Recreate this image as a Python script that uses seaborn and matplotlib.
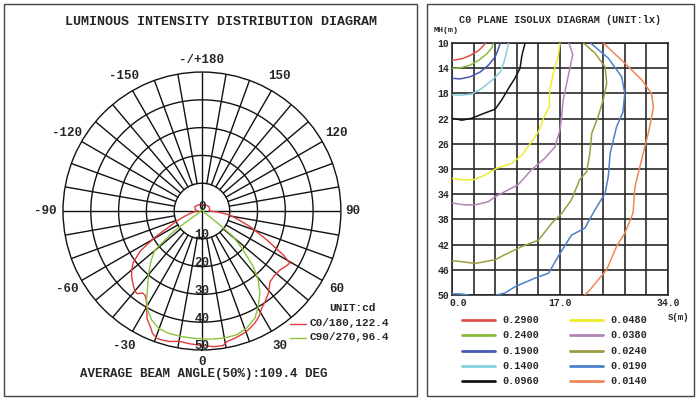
import numpy as np
import matplotlib
matplotlib.use("Agg")
import matplotlib.pyplot as plt
from matplotlib.lines import Line2D
from matplotlib.patches import Rectangle
from matplotlib.transforms import ScaledTranslation
import seaborn as sns

# --- polar data: angle (deg, 0 = straight down) and value on the 0..50 ring scale
c0_angle = [-180, -150, -120, -100, -90, -84, -78, -73, -68, -64, -61, -57, -53, -50, -47,
            -43, -40, -38, -36, -34, -32, -30, -27, -24, -22, -19.5, -17, -14, -10, -5,
            0, 5, 9, 11, 14.5, 17, 20, 22.5, 25, 27, 29, 31.5, 35, 39, 44,
            48.5, 53, 56, 59.3, 61.6, 66, 72, 76, 82, 86, 90, 100, 120, 150, 180]
c0_value = [2.2, 2.6, 3.0, 2.4, 1.5, 2.5, 4.5, 6.5, 10.0, 13.5, 19.0, 26.5, 31.0, 33.0, 34.6,
            36.3, 37.6, 37.8, 36.4, 36.6, 37.8, 39.8, 43.5, 45.6, 47.5, 48.6, 48.6, 48.4, 47.6, 48.0,
            48.4, 49.0, 49.0, 47.8, 47.3, 46.8, 46.3, 45.5, 44.7, 43.8, 42.8, 41.1, 39.7, 38.0, 35.3,
            34.9, 35.2, 36.0, 36.8, 33.3, 25.5, 18.2, 14.0, 10.0, 6.0, 2.5, 2.8, 3.0, 2.6, 2.2]

c90_angle = [-180, -90, -70, -58, -56, -55, -53.6, -50.3, -45.8, -40.2, -35.7, -31.9, -28.7, -24.8,
             -20.4, -15.4, -9.2, -3.1, 3.6, 9.5, 15.6, 20.9, 26.3, 30.5, 35.2, 39.2, 42.7, 46.6,
             50.6, 52, 53, 56, 65, 90, 180]
c90_value = [0.5, 0.5, 0.8, 1.5, 4.0, 8.0, 13.5, 22.0, 25.5, 29.8, 33.5, 37.7, 40.6, 43.2,
             45.0, 45.6, 45.8, 45.9, 46.2, 46.4, 46.3, 45.1, 43.0, 39.9, 36.2, 32.0, 27.2, 20.4,
             14.6, 9.0, 4.0, 1.5, 0.8, 0.5, 0.5]

angle_ticks = [0, 30, 60, 90, 120, 150, 180, -150, -120, -90, -60, -30]
angle_text = ["0", "30", "60", "90", "120", "150", "-/+180", "-150", "-120", "-90", "-60", "-30"]
ring_ticks = [0, 10, 20, 30, 40, 50]

# --- isolux data: S (m) and MH (m) along each traced line
iso_labels = ["0.2900", "0.2400", "0.1900", "0.1400", "0.0960",
              "0.0480", "0.0380", "0.0240", "0.0190", "0.0140"]
iso_colors = ["#e0504c", "#8cbb3c", "#4858b0", "#86d0dc", "#141414",
              "#ecec2c", "#b384b6", "#9c9c42", "#4c80c8", "#f2875a"]

s_2900 = [0, 1.57, 2.88, 4.18, 4.97, 5.3]
mh_2900 = [12.75, 12.5, 11.97, 11.2, 10.4, 10]
s_2400 = [0, 1.3, 2.88, 4.2, 5.5, 6.3, 6.5]
mh_2400 = [14.05, 13.95, 13.5, 12.75, 11.7, 10.7, 10]
s_1900 = [0, 1.3, 2.9, 4.45, 5.75, 6.8, 7.3, 7.6]
mh_1900 = [15.6, 15.7, 15.35, 14.6, 13.5, 12.2, 10.9, 10]
s_1400 = [0, 1.3, 3.1, 4.7, 6.3, 7.6, 8.1, 8.6, 8.9]
mh_1400 = [18.2, 18.3, 18.1, 17.2, 15.9, 14.6, 13.3, 11.45, 10]
s_0960 = [0, 1.57, 3.1, 4.7, 6.8, 7.85, 8.9, 9.9, 10.7, 11.0, 11.5]
mh_0960 = [21.95, 22.25, 21.95, 21.3, 20.5, 19.0, 17.2, 15.6, 14.05, 12.0, 10]
s_0480 = [0, 1.5, 3.4, 5.2, 7.0, 9.4, 11.0, 12.5, 13.6, 14.4, 15.3, 15.4, 15.95, 16.7, 17.0]
mh_0480 = [31.5, 31.7, 31.7, 30.95, 29.9, 29.1, 27.8, 25.7, 24.1, 21.95, 20.1, 17.5, 14.8, 12.2, 10]
s_0380 = [0, 2.0, 3.6, 5.7, 6.8, 8.3, 10.4, 12.5, 14.6, 16.2, 17.0, 17.3, 17.5, 18.05, 18.6, 19.0, 18.4]
mh_0380 = [35.4, 35.7, 35.7, 35.2, 34.4, 33.6, 32.5, 30.15, 28.3, 26.5, 23.8, 21.2, 19.05, 16.4, 13.8, 11.8, 10]
s_0240 = [0, 1.5, 3.6, 6.8, 8.3, 11.0, 13.6, 15.7, 17.3, 18.8, 20.1, 21.2, 21.7, 22.0, 23.0,
          23.8, 24.35, 24.1, 22.5, 20.7]
mh_0240 = [44.55, 44.7, 45.0, 44.4, 43.6, 42.3, 41.3, 38.6, 37.0, 34.9, 31.7, 30.4, 27.5, 24.3, 21.7,
           19.05, 16.4, 13.8, 11.6, 10]
s_0190 = [7.0, 8.3, 9.9, 13.1, 15.2, 16.7, 18.8, 20.9, 22.5, 24.1, 24.6, 24.9, 25.9, 26.9, 27.2,
          26.7, 24.6, 21.8]
mh_0190 = [50, 49.7, 48.7, 47.3, 46.55, 43.9, 40.5, 39.4, 36.5, 33.85, 31.2, 27.5, 23.3, 21.0, 18.0,
           15.35, 12.4, 10]
s_0190b = [0, 1.5, 2.6]
mh_0190b = [49.8, 49.85, 50]
s_0140 = [20.9, 21.7, 23.0, 24.35, 25.9, 27.2, 28.5, 28.8, 30.1, 30.9, 31.4, 31.7, 31.4, 29.9, 27.2, 23.8]
mh_0140 = [50, 49.2, 47.6, 46.0, 42.3, 40.2, 37.0, 32.8, 27.5, 24.3, 21.95, 20.1, 18.0, 15.9, 13.2, 10]

iso_traces = [[(s_2900, mh_2900)], [(s_2400, mh_2400)], [(s_1900, mh_1900)],
              [(s_1400, mh_1400)], [(s_0960, mh_0960)], [(s_0480, mh_0480)],
              [(s_0380, mh_0380)], [(s_0240, mh_0240)],
              [(s_0190, mh_0190), (s_0190b, mh_0190b)], [(s_0140, mh_0140)]]

s_ticks = np.arange(0, 34.01, 3.4)
mh_ticks = np.arange(10, 50.01, 4)

sns.set_style("white")
plt.rcParams['font.family'] = ['Liberation Mono', 'DejaVu Sans']
plt.rcParams['font.weight'] = 'bold'

W, H = 700, 400
fig = plt.figure(figsize=(7, 4), dpi=100)


def fx(px):
    return px / W


def fy(py):
    return 1 - py / H


# panel frames
fig.add_artist(Rectangle((fx(4), fy(396)), (417 - 4) / W, (396 - 4) / H,
                         transform=fig.transFigure, fill=False, lw=1, ec="#444"))
fig.add_artist(Rectangle((fx(427), fy(396)), (694 - 427) / W, (396 - 4) / H,
                         transform=fig.transFigure, fill=False, lw=1, ec="#444"))

# ---------------- polar diagram
ax = fig.add_axes([0.09, 0.125, 0.397, 0.695], projection="polar")
ax.set_theta_zero_location("S")
ax.set_theta_direction(1)
gc, gw = "#111111", 1.0
tt = np.linspace(0, 2 * np.pi, 361)
for rr in [10, 20, 30, 40]:
    ax.plot(tt, np.full_like(tt, rr), color=gc, lw=gw, zorder=1)
for a in range(0, 360, 10):
    ax.plot([np.deg2rad(a)] * 2, [10, 50], color=gc, lw=gw, zorder=1)
for a in [0, 90, 180, 270]:
    ax.plot([np.deg2rad(a)] * 2, [0, 10], color=gc, lw=gw, zorder=1)

sns.lineplot(x=np.deg2rad(c0_angle), y=c0_value, ax=ax, sort=False, estimator=None,
             color="#e23a3e", lw=1.0, zorder=3)
sns.lineplot(x=np.deg2rad(c90_angle), y=c90_value, ax=ax, sort=False, estimator=None,
             color="#8cc43c", lw=1.0, zorder=3)

ax.set_ylim(0, 50)
ax.set_xticks([])
ax.set_yticks([])
ax.grid(False)
ax.set_xlabel("")
ax.set_ylabel("")
ax.spines["polar"].set_color(gc)
ax.spines["polar"].set_linewidth(1.0)

for a, t in zip(angle_ticks, angle_text):
    r_lab = 54.4 if a in (0, 90, 180) else (56.4 if a == -90 else 56.0)
    ax.text(np.deg2rad(a), r_lab, t, ha="center", va="center", fontsize=9,
            fontweight="bold", clip_on=False)
for r in ring_ticks:
    if r == 0:
        ax.text(np.pi, 1.4, "0", ha="center", va="center", fontsize=9, fontweight="bold")
    else:
        ax.text(0, r - 1.3, str(r), ha="center", va="center", fontsize=9, fontweight="bold")

fig.text(fx(221), fy(22), "LUMINOUS INTENSITY DISTRIBUTION DIAGRAM", ha="center", va="center",
         fontsize=9.6, fontweight="bold")
fig.text(fx(352), fy(308), "UNIT:cd", ha="center", va="center", fontsize=8, fontweight="bold")
fig.add_artist(Line2D([fx(290), fx(306)], [fy(324)] * 2, transform=fig.transFigure,
                      color="#e23a3e", lw=1))
fig.add_artist(Line2D([fx(290), fx(306)], [fy(338)] * 2, transform=fig.transFigure,
                      color="#8cc43c", lw=1))
fig.text(fx(310), fy(323), "C0/180,122.4", ha="left", va="center", fontsize=8, fontweight="bold")
fig.text(fx(310), fy(337), "C90/270,96.4", ha="left", va="center", fontsize=8, fontweight="bold")
fig.text(fx(204), fy(374), "AVERAGE BEAM ANGLE(50%):109.4 DEG", ha="center", va="center",
         fontsize=9, fontweight="bold")

# ---------------- isolux diagram
ax2 = fig.add_axes([fx(452), fy(295), (668 - 452) / W, (295 - 43) / H])
for col, segs in zip(iso_colors, iso_traces):
    for xs, ys in segs:
        sns.lineplot(x=xs, y=ys, ax=ax2, sort=False, estimator=None, color=col, lw=1.1, zorder=3)

ax2.set_xlim(0, 34)
ax2.set_ylim(50, 10)
ax2.set_xticks(s_ticks)
ax2.set_xticklabels(["0.0" if i == 0 else "17.0" if i == 5 else "34.0" if i == 10 else ""
                     for i in range(len(s_ticks))])
ax2.set_yticks(mh_ticks)
ax2.set_yticklabels([f"{v:.0f}" for v in mh_ticks])
ax2.tick_params(length=0, labelsize=7, pad=2)
for lab in ax2.get_xticklabels() + ax2.get_yticklabels():
    lab.set_fontweight("bold")
first = ax2.get_xticklabels()[0]
first.set_transform(first.get_transform() + ScaledTranslation(6 / 100, 0, fig.dpi_scale_trans))
ax2.grid(True, color="#2a2a2a", lw=1.2)
ax2.set_axisbelow(True)
for sp in ax2.spines.values():
    sp.set_color("#2a2a2a")
    sp.set_linewidth(1.2)
ax2.set_xlabel("")
ax2.set_ylabel("")

fig.text(fx(560), fy(20), "C0 PLANE ISOLUX DIAGRAM (UNIT:lx)", ha="center", va="center",
         fontsize=7.4, fontweight="bold")
fig.text(fx(446), fy(31), "MH(m)", ha="center", va="center", fontsize=6, fontweight="bold")
fig.text(fx(679), fy(317), "S(m)", ha="center", va="center", fontsize=6.5, fontweight="bold")

row_y = [320, 335, 351, 366, 381]
for i, (lab, col) in enumerate(zip(iso_labels, iso_colors)):
    c, r = divmod(i, 5)
    x0 = 462 if c == 0 else 570
    fig.add_artist(Line2D([fx(x0), fx(x0 + 33)], [fy(row_y[r])] * 2, transform=fig.transFigure,
                          color=col, lw=2))
    fig.text(fx(x0 + 40), fy(row_y[r]), lab, ha="left", va="center", fontsize=7.3,
             fontweight="bold")

fig.savefig("out.png", dpi=100, facecolor="white")
